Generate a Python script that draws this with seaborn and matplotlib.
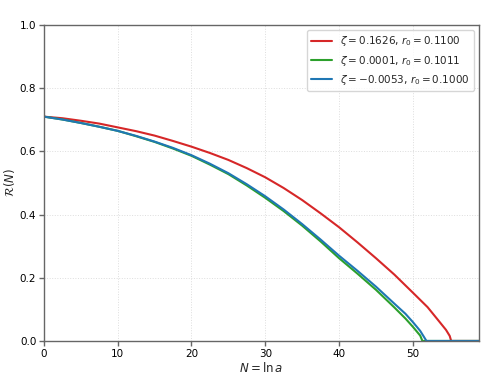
import numpy as np
import pandas as pd
import matplotlib
matplotlib.use("Agg")
import matplotlib.pyplot as plt
import seaborn as sns

labels = [r"$\zeta = 0.1626$, $r_0 = 0.1100$",
          r"$\zeta = 0.0001$, $r_0 = 0.1011$",
          r"$\zeta = -0.0053$, $r_0 = 0.1000$"]
colors = ["#d62728", "#2ca02c", "#1f77b4"]

n_red = [0, 2.5, 5, 7.5, 10, 12.5, 15, 17.5, 20, 22.5, 25, 27.5, 30, 32.5, 35, 37.5,
         40, 42.5, 45, 47.5, 50, 52, 53.6, 54.5, 55.0, 55.2, 57, 59.5]
r_red = [0.710, 0.705, 0.697, 0.688, 0.676, 0.664, 0.650, 0.633, 0.615, 0.595, 0.573,
         0.547, 0.518, 0.484, 0.446, 0.404, 0.360, 0.312, 0.262, 0.210, 0.153, 0.107,
         0.061, 0.035, 0.016, 0.0, 0.0, 0.0]

n_green = [0, 2.5, 5, 7.5, 10, 12.5, 15, 17.5, 20, 22.5, 25, 27.5, 30, 32.5, 35, 37.5,
           40, 42.5, 45, 47.5, 49, 50, 51, 51.3, 55, 59.5]
r_green = [0.710, 0.701, 0.690, 0.678, 0.665, 0.648, 0.630, 0.609, 0.586, 0.558, 0.528,
           0.492, 0.453, 0.411, 0.365, 0.315, 0.262, 0.213, 0.162, 0.106, 0.071, 0.045,
           0.017, 0.0, 0.0, 0.0]

n_blue = [0, 2.5, 5, 7.5, 10, 12.5, 15, 17.5, 20, 22.5, 25, 27.5, 30, 32.5, 35, 37.5,
          40, 42.5, 45, 47.5, 49, 50, 51, 51.85, 55, 59.5]
r_blue = [0.710, 0.701, 0.690, 0.678, 0.665, 0.649, 0.631, 0.611, 0.588, 0.561, 0.531,
          0.496, 0.458, 0.416, 0.370, 0.321, 0.270, 0.222, 0.172, 0.118, 0.086, 0.060,
          0.032, 0.0, 0.0, 0.0]

frames = []
for lab, n, r in zip(labels, [n_red, n_green, n_blue], [r_red, r_green, r_blue]):
    frames.append(pd.DataFrame({"N": n, "R": r, "series": lab}))
df = pd.concat(frames, ignore_index=True)

sns.set_style("ticks")
fig = plt.figure(figsize=(4.88, 3.91), dpi=100)
ax = fig.add_axes([0.090, 0.128, 0.892, 0.808])

sns.lineplot(data=df, x="N", y="R", hue="series", palette=colors,
             hue_order=labels, linewidth=1.5, ax=ax, sort=False,
             estimator=None)

ax.set_xlim(0, 59.0)
ax.set_ylim(0, 1.0)
ax.set_xticks([0, 10, 20, 30, 40, 50])
ax.set_yticks([0.0, 0.2, 0.4, 0.6, 0.8, 1.0])
ax.grid(True, linestyle=":", color="#dddddd", linewidth=0.7)
for s in ax.spines.values():
    s.set_color("#666666")
    s.set_linewidth(1.0)
ax.tick_params(labelsize=7.5, length=3.5, width=1, color="#666666", labelcolor="black", pad=2)
ax.set_xlabel(r"$N = \ln a$", fontsize=8.5, labelpad=2)
ax.set_ylabel(r"$\mathcal{R}(N)$", fontsize=8.5, labelpad=2)
leg = ax.legend(loc="upper right", fontsize=7.5, frameon=True, title=None)
leg.get_frame().set_edgecolor("#cccccc")

fig.savefig("out.png", dpi=100)
